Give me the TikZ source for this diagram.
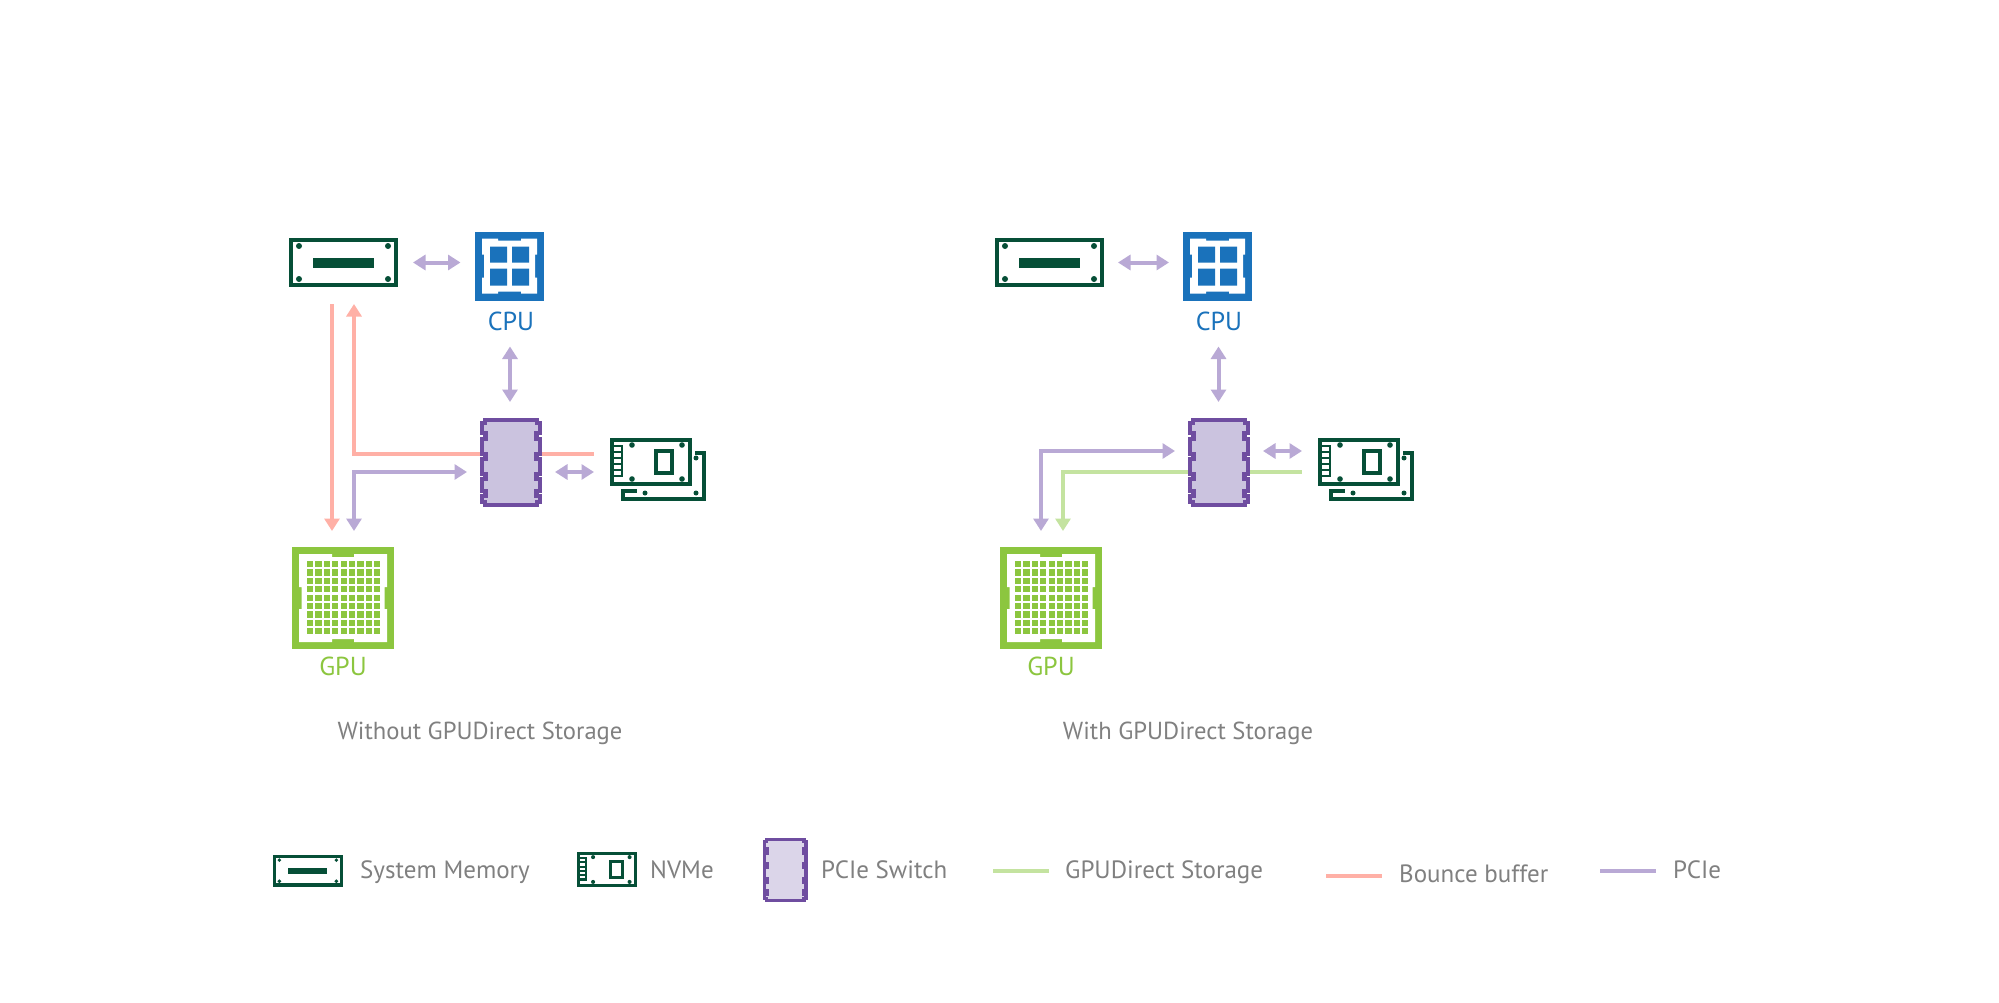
\documentclass[tikz,border=0pt]{standalone}
\usepackage{fontspec}
\setmainfont{PT Sans}
\usetikzlibrary{arrows.meta}
\definecolor{dkgreen}{HTML}{064F37}
\definecolor{cpublue}{HTML}{1A72BB}
\definecolor{gpugreen}{HTML}{8CC63F}
\definecolor{swpurple}{HTML}{6F4DA0}
\definecolor{swfill}{HTML}{CBC3DF}
\definecolor{swfilllight}{HTML}{DBD5E9}
\definecolor{linkpink}{HTML}{FFB0A6}
\definecolor{linkpurple}{HTML}{B9A9D5}
\definecolor{linkgreen}{HTML}{C4E3A0}
\definecolor{txtgray}{HTML}{808080}
\tikzset{
  anchorbox/.style={inner sep=0pt,outer sep=0pt,minimum width=#1},
  link/.style={line width=4pt,line join=miter},
  pciedouble/.style={link,linkpurple,{Triangle[length=12.5pt,width=15pt]}-{Triangle[length=12.5pt,width=15pt]}},
  linkend/.style={link,-{Triangle[length=12.5pt,width=15pt]}},
  lab/.style={font=\fontsize{26}{30}\selectfont,inner sep=0pt,anchor=base},
  ttl/.style={font=\fontsize{24.6}{28}\selectfont,inner sep=0pt,anchor=base,txtgray},
  leg/.style={font=\fontsize{25}{28}\selectfont,inner sep=0pt,txtgray,anchor=base west},
  swatch/.style={line width=4pt}
}
% icons: coordinates are relative to the top-left corner
\newcommand{\IconMem}[4]{\begin{scope}[shift={(#1,#2)},scale=#3]
  \draw[dkgreen,line width=#4pt,fill=white] (2,2) rectangle (107,47);
  \fill[dkgreen] (24,20) rectangle (85,30);
  \foreach \hx/\hy in {10/8,99/8,10/41,99/41}{\fill[dkgreen] (\hx,\hy) circle (3);}
\end{scope}}
\newcommand{\IconCpu}[2]{\begin{scope}[shift={(#1,#2)}]
  \fill[cpublue] (0,0) rectangle (69,69);
  \fill[white] (7,7)--(23,7)--(23,9)--(46,9)--(46,7)--(62,7)--(62,23)--(60,23)--(60,46)--(62,46)--(62,62)--(46,62)--(46,60)--(23,60)--(23,62)--(7,62)--(7,46)--(9,46)--(9,23)--(7,23)--cycle;
  \fill[cpublue] (15,15) rectangle (32,31) (37,15) rectangle (54,31) (15,37) rectangle (32,54) (37,37) rectangle (54,54);
\end{scope}}
\newcommand{\IconGpu}[2]{\begin{scope}[shift={(#1,#2)}]
  \fill[gpugreen] (0,0) rectangle (102,102);
  \fill[white] (7,7)--(40,7)--(40,10)--(62,10)--(62,7)--(95,7)--(95,40)--(92.5,40)--(92.5,62)--(95,62)--(95,95)--(62,95)--(62,92)--(40,92)--(40,95)--(7,95)--(7,62)--(9.5,62)--(9.5,40)--(7,40)--cycle;
  \foreach \i in {0,...,8}{\foreach \j in {0,...,8}{
    \fill[gpugreen] ({15+8.4*\i},{14+8.4*\j}) rectangle ++(6.2,6.2);}}
\end{scope}}
\newcommand{\IconSwitch}[5]{\begin{scope}[shift={(#1,#2)},scale=#3]
  \draw[swpurple,line width=#4pt,fill=#5,line join=miter]
   (5,2.2)--(57,2.2)--(57,5)--(60,5)--(60,15)--(56.5,15)--(56.5,21)--(60,21)--(60,36)--(56.5,36)--(56.5,41)--(60,41)--(60,56)--(56.5,56)--(56.5,61)--(60,61)--(60,73)--(56.5,73)--(56.5,78)--(60,78)--(60,84)--(57,84)--(57,87)
   --(5,87)--(5,84)--(2,84)--(2,78)--(5.5,78)--(5.5,73)--(2,73)--(2,61)--(5.5,61)--(5.5,56)--(2,56)--(2,41)--(5.5,41)--(5.5,36)--(2,36)--(2,21)--(5.5,21)--(5.5,15)--(2,15)--(2,5)--(5,5)--cycle;
\end{scope}}
\newcommand{\IconCard}[4]{\begin{scope}[shift={(#1,#2)},scale=#3]
  \draw[dkgreen,line width=#4pt,fill=white] (2,2) rectangle (80,46);
  \draw[dkgreen,line width=#4pt] (46,13) rectangle (62,35);
  \draw[dkgreen,line width=2.5pt] (2,8)--(12,8)--(12,38)--(2,38);
  \foreach \ty in {14,20,26,32}{\draw[dkgreen,line width=2.2pt] (2,\ty)--(12,\ty);}
  \foreach \hx/\hy in {22/7,72/7,22/41,72/41}{\fill[dkgreen] (\hx,\hy) circle (2.8);}
\end{scope}}
\newcommand{\IconCardBack}[2]{\begin{scope}[shift={(#1,#2)}]
  \draw[dkgreen,line width=3.5pt] (85,15)--(94,15)--(94,61)--(13,61)--(13,53)--(27,53);
  \foreach \hx/\hy in {35/55,86/55,86/20}{\fill[dkgreen] (\hx,\hy) circle (2.5);}
\end{scope}}
\begin{document}
\begin{tikzpicture}[x=1pt,y=-1pt]
\useasboundingbox (0,0) rectangle (1999,1003);
\fill[white] (0,0) rectangle (1999,1003);

% --- anchors, left panel
\node[anchorbox=109pt,minimum height=49pt] (memL) at (343.5,262.5) {};
\node[anchorbox=69pt,minimum height=69pt] (cpuL) at (510,266) {};
\node[anchorbox=62pt,minimum height=89pt] (swL) at (511,462.5) {};
\node[anchorbox=82pt,minimum height=48pt] (nvmeL) at (651,462) {};
\node[anchorbox=102pt,minimum height=102pt] (gpuL) at (343,598) {};
% --- anchors, right panel
\node[anchorbox=109pt,minimum height=49pt] (memR) at (1049.5,262.5) {};
\node[anchorbox=69pt,minimum height=69pt] (cpuR) at (1218.5,266) {};
\node[anchorbox=62pt,minimum height=89pt] (swR) at (1219,462.5) {};
\node[anchorbox=82pt,minimum height=48pt] (nvmeR) at (1359,462) {};
\node[anchorbox=102pt,minimum height=102pt] (gpuR) at (1051,598) {};

% --- connectors, left panel
\coordinate (pd) at ([xshift=-11.5pt,yshift=-17pt]memL.south);
\coordinate (pu) at ([xshift=10.5pt,yshift=-17pt]memL.south);
\draw[pciedouble] ([xshift=15pt]memL.east) -- ([xshift=-15pt]memL.east -| cpuL.west);
\draw[pciedouble] ([yshift=-46pt]cpuL.south) -- ([yshift=16pt]swL.north -| cpuL.south);
\draw[linkend,linkpink] (pd) -- ([yshift=16pt]gpuL.north -| pd);
\draw[linkend,linkpink] ([yshift=8.5pt]swL.west) -| (pu);
\draw[link,linkpink] ([yshift=8.5pt]swL.east) -- ([xshift=-16pt,yshift=8.5pt]swL.east -| nvmeL.west);
\draw[pciedouble] ([yshift=16pt]gpuL.north -| pu) |- ([xshift=-13pt,yshift=-9.5pt]swL.west);
\draw[pciedouble] ([xshift=13pt,yshift=-9.5pt]swL.east) -- ([xshift=-16pt,yshift=-9.5pt]swL.east -| nvmeL.west);

% --- connectors, right panel
\coordinate (pl) at ([xshift=-10pt,yshift=16pt]gpuR.north);
\coordinate (gl) at ([xshift=12pt,yshift=16pt]gpuR.north);
\draw[pciedouble] ([xshift=14pt]memR.east) -- ([xshift=-15pt]memR.east -| cpuR.west);
\draw[pciedouble] ([yshift=-46pt]cpuR.south) -- ([yshift=16pt]swR.north -| cpuR.south);
\draw[pciedouble] (pl) |- ([xshift=-13pt,yshift=11.5pt]swR.west);
\draw[linkend,linkgreen] ([yshift=-9.5pt]swR.west) -| (gl);
\draw[link,linkgreen] ([yshift=-9.5pt]swR.east) -- ([xshift=-16pt,yshift=-9.5pt]swR.east -| nvmeR.west);
\draw[pciedouble] ([xshift=13pt,yshift=11.5pt]swR.east) -- ([xshift=-16pt,yshift=11.5pt]swR.east -| nvmeR.west);

% --- icons
\IconMem{289}{238}{1}{4}
\IconCpu{475}{231.5}
\IconSwitch{480}{418}{1}{4.4}{swfill}
\IconCardBack{610}{438}
\IconCard{610}{438}{1}{4}
\IconGpu{292}{547}

\IconMem{995}{238}{1}{4}
\IconCpu{1183}{231.5}
\IconSwitch{1188}{418}{1}{4.4}{swfill}
\IconCardBack{1318}{438}
\IconCard{1318}{438}{1}{4}
\IconGpu{1000}{547}

% --- labels
\node[lab,cpublue] (cpuLabL) at (511,330) {CPU};
\node[lab,cpublue] (cpuLabR) at (1219,330) {CPU};
\node[lab,gpugreen] (gpuLabL) at (343,675) {GPU};
\node[lab,gpugreen] (gpuLabR) at (1051,675) {GPU};
\node[ttl] (titleL) at (480,739) {Without GPUDirect Storage};
\node[ttl] (titleR) at (1188,739) {With GPUDirect Storage};

% --- legend
\IconMem{273}{855}{0.64}{3.5}
\IconCard{577}{852}{0.73}{3.5}
\IconSwitch{763}{838}{0.72}{3.6}{swfilllight}
\draw[swatch,linkgreen] (993,871) -- (1049,871);
\draw[swatch,linkpink] (1326,876) -- (1382,876);
\draw[swatch,linkpurple] (1600,871) -- (1656,871);
\node[leg] (legMem) at (360,878) {System Memory};
\node[leg] (legNvme) at (650,878) {NVMe};
\node[leg] (legSw) at (821,878) {PCIe Switch};
\node[leg] (legGds) at (1065,878) {GPUDirect Storage};
\node[leg] (legBb) at (1399,882) {Bounce buffer};
\node[leg] (legPcie) at (1673,878) {PCIe};
\end{tikzpicture}
\end{document}
